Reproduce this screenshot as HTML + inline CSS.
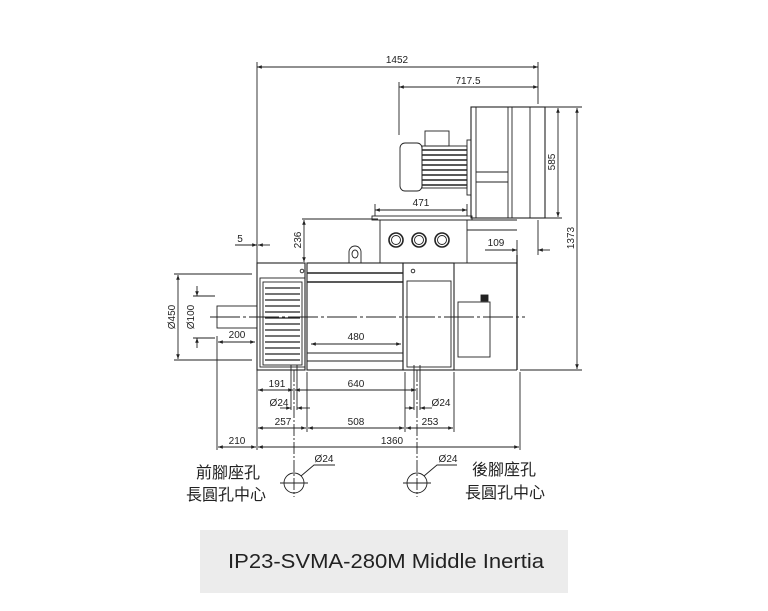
<!DOCTYPE html>
<html><head><meta charset="utf-8"><style>
html,body{margin:0;padding:0;background:#fff;}
svg{display:block;}
text{font-family:"Liberation Sans",Arial,sans-serif;font-size:10px;fill:#222;}
.cjk{font-family:"Liberation Sans","Noto Sans CJK TC",sans-serif;font-size:16px;fill:#222;}
</style></head><body>
<svg width="768" height="611" viewBox="0 0 768 611" xmlns="http://www.w3.org/2000/svg">
<defs>
<marker id="a" viewBox="0 0 8 6" refX="8" refY="3" markerWidth="6" markerHeight="4" orient="auto-start-reverse"><path d="M0,0L8,3L0,6z" fill="#222"/></marker>
</defs>
<g stroke="#222" stroke-width="0.9" fill="none">
<line x1="257" y1="62" x2="257" y2="450"/>
<line x1="538" y1="62" x2="538" y2="104"/>
<line x1="399" y1="82" x2="399" y2="135"/>
<line x1="545" y1="107" x2="582" y2="107"/>
<line x1="515" y1="218" x2="562" y2="218"/>
<line x1="520" y1="370" x2="582" y2="370"/>
<line x1="302" y1="219" x2="378" y2="219"/>
<line x1="375" y1="204" x2="375" y2="216"/>
<line x1="467" y1="204" x2="467" y2="216"/>
<line x1="538" y1="220" x2="538" y2="255"/>
<line x1="517" y1="240" x2="517" y2="255"/>
<line x1="174" y1="274" x2="252" y2="274"/>
<line x1="174" y1="360" x2="252" y2="360"/>
<line x1="193" y1="296" x2="215" y2="296"/>
<line x1="193" y1="338" x2="215" y2="338"/>
<line x1="217" y1="336" x2="217" y2="450"/>
<line x1="307" y1="372" x2="307" y2="432"/>
<line x1="405" y1="372" x2="405" y2="432"/>
<line x1="454" y1="372" x2="454" y2="432"/>
<line x1="520" y1="372" x2="520" y2="450"/>
<line x1="257" y1="67" x2="538" y2="67" marker-start="url(#a)" marker-end="url(#a)"/>
<line x1="399" y1="87" x2="538" y2="87" marker-start="url(#a)" marker-end="url(#a)"/>
<line x1="558" y1="108" x2="558" y2="217" marker-start="url(#a)" marker-end="url(#a)"/>
<line x1="577" y1="108" x2="577" y2="369" marker-start="url(#a)" marker-end="url(#a)"/>
<line x1="375" y1="210" x2="467" y2="210" marker-start="url(#a)" marker-end="url(#a)"/>
<line x1="304" y1="220" x2="304" y2="262" marker-start="url(#a)" marker-end="url(#a)"/>
<line x1="235" y1="245" x2="257" y2="245" marker-end="url(#a)"/>
<line x1="270" y1="245" x2="258" y2="245" marker-end="url(#a)"/>
<line x1="485" y1="250" x2="517" y2="250" marker-end="url(#a)"/>
<line x1="550" y1="250" x2="538" y2="250" marker-end="url(#a)"/>
<line x1="178" y1="275" x2="178" y2="359" marker-start="url(#a)" marker-end="url(#a)"/>
<line x1="197" y1="286" x2="197" y2="296" marker-end="url(#a)"/>
<line x1="197" y1="348" x2="197" y2="338" marker-end="url(#a)"/>
<line x1="218" y1="342" x2="255" y2="342" marker-start="url(#a)" marker-end="url(#a)"/>
<line x1="311" y1="344" x2="401" y2="344" marker-start="url(#a)" marker-end="url(#a)"/>
<line x1="258" y1="390" x2="293" y2="390" marker-start="url(#a)" marker-end="url(#a)"/>
<line x1="295" y1="390" x2="416" y2="390" marker-start="url(#a)" marker-end="url(#a)"/>
<line x1="280" y1="408" x2="291" y2="408" marker-end="url(#a)"/>
<line x1="310" y1="408" x2="297" y2="408" marker-end="url(#a)"/>
<line x1="405" y1="408" x2="414" y2="408" marker-end="url(#a)"/>
<line x1="432" y1="408" x2="420" y2="408" marker-end="url(#a)"/>
<line x1="258" y1="428" x2="306" y2="428" marker-start="url(#a)" marker-end="url(#a)"/>
<line x1="308" y1="428" x2="404" y2="428" marker-start="url(#a)" marker-end="url(#a)"/>
<line x1="406" y1="428" x2="453" y2="428" marker-start="url(#a)" marker-end="url(#a)"/>
<line x1="218" y1="447" x2="256" y2="447" marker-start="url(#a)" marker-end="url(#a)"/>
<line x1="258" y1="447" x2="519" y2="447" marker-start="url(#a)" marker-end="url(#a)"/>
<line x1="291" y1="365" x2="291" y2="410"/><line x1="297" y1="365" x2="297" y2="410"/>
<line x1="414" y1="365" x2="414" y2="410"/><line x1="420" y1="365" x2="420" y2="410"/>
<line x1="294" y1="370" x2="294" y2="497" stroke-dasharray="12,2,2,2"/>
<line x1="417" y1="370" x2="417" y2="497" stroke-dasharray="12,2,2,2"/>
<circle cx="294" cy="483" r="10"/><line x1="280" y1="483" x2="308" y2="483"/>
<circle cx="417" cy="483" r="10"/><line x1="403" y1="483" x2="431" y2="483"/>
<path d="M301,476L314,465H335"/><path d="M424,476L437,465H457"/>
<rect x="217" y="306" width="40" height="22"/>
<rect x="257" y="263" width="48" height="107" stroke-width="1.1"/>
<rect x="260" y="278" width="45" height="89"/>
<rect x="263" y="282" width="39" height="83"/>
<g stroke-width="1.3">
<line x1="265" y1="288" x2="300" y2="288"/><line x1="265" y1="294" x2="300" y2="294"/><line x1="265" y1="300" x2="300" y2="300"/><line x1="265" y1="306" x2="300" y2="306"/><line x1="265" y1="312" x2="300" y2="312"/><line x1="265" y1="318" x2="300" y2="318"/><line x1="265" y1="324" x2="300" y2="324"/><line x1="265" y1="330" x2="300" y2="330"/><line x1="265" y1="336" x2="300" y2="336"/><line x1="265" y1="342" x2="300" y2="342"/><line x1="265" y1="348" x2="300" y2="348"/><line x1="265" y1="354" x2="300" y2="354"/><line x1="265" y1="360" x2="300" y2="360"/>
</g>
<rect x="307" y="263" width="96" height="107" stroke-width="1.1"/>
<line x1="307" y1="273" x2="403" y2="273" stroke-width="1.4"/><line x1="307" y1="282" x2="403" y2="282" stroke-width="1.4"/>
<line x1="307" y1="353" x2="403" y2="353"/><line x1="307" y1="361" x2="403" y2="361"/>
<rect x="403" y="263" width="51" height="107" stroke-width="1.1"/>
<rect x="407" y="281" width="44" height="86"/>
<circle cx="302" cy="271" r="1.8"/><circle cx="413" cy="271" r="1.8"/>
<line x1="454" y1="263" x2="517" y2="263"/>
<line x1="517" y1="255" x2="517" y2="370" stroke-width="1.3"/>
<line x1="454" y1="370" x2="517" y2="370"/>
<rect x="458" y="302" width="32" height="55"/>
<rect x="481" y="295" width="7" height="6" fill="#222"/>
<path d="M349,263V252a6,6 0 0 1 12,0V263"/><ellipse cx="355" cy="254" rx="3" ry="4"/>
<line x1="210" y1="317" x2="525" y2="317" stroke-dasharray="30,3,3,3"/>
<rect x="372" y="216" width="100" height="4"/>
<rect x="380" y="220" width="87" height="43"/>
<line x1="467" y1="220" x2="517" y2="220"/><line x1="467" y1="230" x2="517" y2="230"/>
<circle cx="396" cy="240" r="7" stroke-width="1.6"/><circle cx="396" cy="240" r="4.5"/>
<circle cx="419" cy="240" r="7" stroke-width="1.6"/><circle cx="419" cy="240" r="4.5"/>
<circle cx="442" cy="240" r="7" stroke-width="1.6"/><circle cx="442" cy="240" r="4.5"/>
<rect x="471" y="107" width="74" height="111" stroke-width="1.1"/>
<line x1="476" y1="107" x2="476" y2="218"/><line x1="508" y1="107" x2="508" y2="218"/><line x1="512" y1="107" x2="512" y2="218"/><line x1="530" y1="107" x2="530" y2="218"/>
<line x1="476" y1="172" x2="508" y2="172"/><line x1="476" y1="182" x2="508" y2="182"/>
<rect x="467" y="140" width="4" height="55"/>
<rect x="400" y="143" width="22" height="48" rx="5"/>
<rect x="422" y="146" width="45" height="42"/>
<g stroke-width="1.4"><line x1="422" y1="150" x2="467" y2="150"/><line x1="422" y1="155" x2="467" y2="155"/><line x1="422" y1="160" x2="467" y2="160"/><line x1="422" y1="165" x2="467" y2="165"/><line x1="422" y1="170" x2="467" y2="170"/><line x1="422" y1="175" x2="467" y2="175"/><line x1="422" y1="180" x2="467" y2="180"/><line x1="422" y1="185" x2="467" y2="185"/></g>
<rect x="425" y="131" width="24" height="15"/>
</g>
<text x="397" y="63" text-anchor="middle">1452</text>
<text x="468" y="84" text-anchor="middle">717.5</text>
<text x="421" y="206" text-anchor="middle">471</text>
<text x="240" y="242" text-anchor="middle">5</text>
<text x="496" y="246" text-anchor="middle">109</text>
<text transform="translate(555,162) rotate(-90)" text-anchor="middle">585</text>
<text transform="translate(574,238) rotate(-90)" text-anchor="middle">1373</text>
<text transform="translate(301,240) rotate(-90)" text-anchor="middle">236</text>
<text transform="translate(175,317) rotate(-90)" text-anchor="middle">Ø450</text>
<text transform="translate(194,317) rotate(-90)" text-anchor="middle">Ø100</text>
<text x="237" y="338" text-anchor="middle">200</text>
<text x="356" y="340" text-anchor="middle">480</text>
<text x="277" y="387" text-anchor="middle">191</text>
<text x="356" y="387" text-anchor="middle">640</text>
<text x="279" y="406" text-anchor="middle">Ø24</text>
<text x="441" y="406" text-anchor="middle">Ø24</text>
<text x="283" y="425" text-anchor="middle">257</text>
<text x="356" y="425" text-anchor="middle">508</text>
<text x="430" y="425" text-anchor="middle">253</text>
<text x="237" y="444" text-anchor="middle">210</text>
<text x="392" y="444" text-anchor="middle">1360</text>
<text x="324" y="462" text-anchor="middle">Ø24</text>
<text x="448" y="462" text-anchor="middle">Ø24</text>
<text class="cjk" x="228" y="478" text-anchor="middle">前腳座孔</text>
<text class="cjk" x="226" y="500" text-anchor="middle">長圓孔中心</text>
<text class="cjk" x="504" y="475" text-anchor="middle">後腳座孔</text>
<text class="cjk" x="505" y="498" text-anchor="middle">長圓孔中心</text>
<rect x="200" y="530" width="368" height="63" fill="#ececec"/>
<text x="386" y="568" text-anchor="middle" style="font-family:'Liberation Sans','DejaVu Sans',sans-serif;font-size:20px;fill:#222" textLength="316" lengthAdjust="spacingAndGlyphs">IP23-SVMA-280M Middle Inertia</text>
</svg>
</body></html>
